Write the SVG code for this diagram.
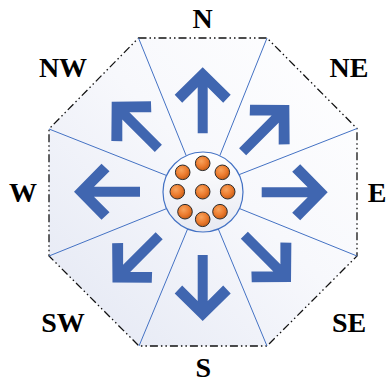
<svg xmlns="http://www.w3.org/2000/svg" width="386" height="383" viewBox="0 0 386 383">
<defs>
<linearGradient id="bg" x1="1" y1="0" x2="0" y2="1">
<stop offset="0" stop-color="#FFFFFF"/>
<stop offset="0.45" stop-color="#F7F8FC"/>
<stop offset="1" stop-color="#E3E7F3"/>
</linearGradient>
<linearGradient id="cg" x1="0.5" y1="0" x2="0.5" y2="1">
<stop offset="0" stop-color="#FFFFFF"/>
<stop offset="1" stop-color="#E8EAF2"/>
</linearGradient>
<radialGradient id="ball" cx="0.4" cy="0.35" r="0.65">
<stop offset="0" stop-color="#F7A45E"/>
<stop offset="0.6" stop-color="#EC7B2E"/>
<stop offset="1" stop-color="#C85F18"/>
</radialGradient>
<path id="arr" d="M0,0 L28,27.5 L20.5,35.5 L5,20 L5,66 L-5,66 L-5,20 L-20.5,35.5 L-28,27.5 Z"/>
</defs>
<style>
.oct{fill:url(#bg);stroke:#111;stroke-width:1.3;stroke-dasharray:8 3 1.5 3 1.5 3}
.ray{stroke:#4472C4;stroke-width:1;fill:none}
.arrow{fill:#4066B0}
.hub{fill:url(#cg);stroke:#4472C4;stroke-width:1.2}
.b{fill:url(#ball);stroke:#2b2b2b;stroke-width:1}
.lbl{font-family:"Liberation Serif","Times New Roman",serif;font-weight:bold;font-size:28px;fill:#000;text-anchor:middle}
</style>
<g id="octagon">
<polygon class="oct" points="138.5,38 267,38 357,128.5 357,256 267,346 139,346 49,256 49,129"/>
</g>
<g id="connectors">
<line class="ray" x1="186.2" y1="155.7" x2="138.5" y2="38"/>
<line class="ray" x1="219.8" y1="155.7" x2="267" y2="38"/>
<line class="ray" x1="239.2" y1="174.6" x2="357" y2="128.5"/>
<line class="ray" x1="239.4" y1="208.5" x2="357" y2="256"/>
<line class="ray" x1="218.3" y1="229" x2="267" y2="346"/>
<line class="ray" x1="187.6" y1="229" x2="139" y2="346"/>
<line class="ray" x1="166.6" y1="208.6" x2="49" y2="256"/>
<line class="ray" x1="166.6" y1="175.5" x2="49" y2="129"/>
</g>
<g id="arrows">
<use href="#arr" class="arrow" transform="translate(202.7,67.3)"/>
<use href="#arr" class="arrow" transform="translate(289.3,105) rotate(45)"/>
<use href="#arr" class="arrow" transform="translate(327.7,192.3) rotate(90)"/>
<use href="#arr" class="arrow" transform="translate(291,282) rotate(135)"/>
<use href="#arr" class="arrow" transform="translate(202.7,321) rotate(180)"/>
<use href="#arr" class="arrow" transform="translate(112.5,282.5) rotate(225)"/>
<use href="#arr" class="arrow" transform="translate(74,191.7) rotate(270)"/>
<use href="#arr" class="arrow" transform="translate(111.7,101.7) rotate(315)"/>
</g>
<g id="hub">
<circle class="hub" cx="203" cy="192" r="40"/>
<circle class="b" cx="202.7" cy="163.3" r="7.3"/>
<circle class="b" cx="222.3" cy="172.3" r="7.3"/>
<circle class="b" cx="227.7" cy="191.7" r="7.3"/>
<circle class="b" cx="220" cy="211.7" r="7.3"/>
<circle class="b" cx="202.7" cy="219.3" r="7.3"/>
<circle class="b" cx="185" cy="211.7" r="7.3"/>
<circle class="b" cx="177.3" cy="191.7" r="7.3"/>
<circle class="b" cx="182.7" cy="172.3" r="7.3"/>
<circle class="b" cx="202.7" cy="191.7" r="7.3"/>
</g>
<g id="labels">
<text class="lbl" x="202.7" y="27.5">N</text>
<text class="lbl" x="349" y="77">NE</text>
<text class="lbl" x="377" y="201.7">E</text>
<text class="lbl" x="349" y="332">SE</text>
<text class="lbl" x="203.3" y="377">S</text>
<text class="lbl" x="63" y="332">SW</text>
<text class="lbl" x="23" y="201.7">W</text>
<text class="lbl" x="63" y="77">NW</text>
</g>
</svg>
